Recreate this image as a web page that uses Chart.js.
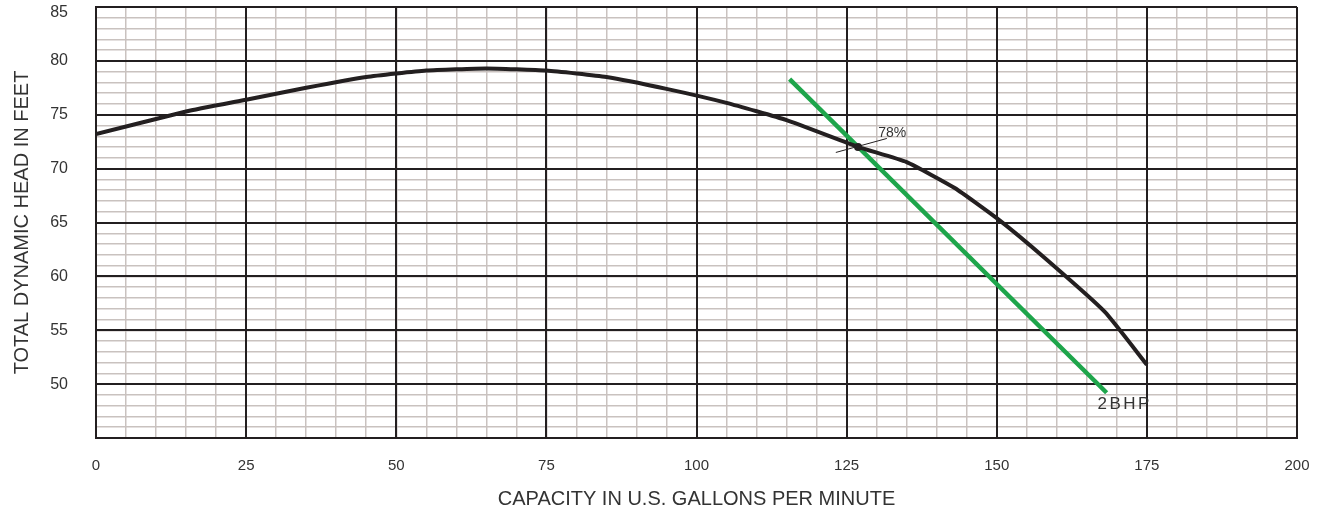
<!DOCTYPE html>
<html>
<head>
<meta charset="utf-8">
<script src="https://cdn.jsdelivr.net/npm/chart.js@4/dist/chart.umd.min.js"></script>
<style>
  html, body { margin: 0; padding: 0; background: #fff; }
  #wrap { width: 1317px; height: 512px; }
</style>
</head>
<body>
<div id="wrap"><canvas id="pump"></canvas></div>
<script>
// pump curve
var capacity = [0, 15, 25, 35, 45, 55, 65, 75, 85, 95, 105, 115, 127, 135, 143, 150, 158, 168, 175];
var head = [73.2, 75.3, 76.4, 77.5, 78.5, 79.1, 79.3, 79.1, 78.5, 77.4, 76.1, 74.5, 72.0, 70.6, 68.2, 65.4, 61.7, 56.7, 51.8];

// 2 BHP line
var bhpX = [115.5, 168.3];
var bhpY = [78.3, 49.2];

// best efficiency point and its little marker stroke
var bepX = [126.9];
var bepY = [72.0];
var effX = [123.2, 131.7];
var effY = [71.5, 72.8];

// text notes on the plot
var noteText = ["78%", "2BHP"];
var noteX = [132.6, 171.3];
var noteY = [73.3, 48.1];

var xTicks = [0, 25, 50, 75, 100, 125, 150, 175, 200];
var yTicks = [50, 55, 60, 65, 70, 75, 80, 85];

function pts(xs, ys) {
  return xs.map(function (x, i) { return { x: x, y: ys[i] }; });
}

Chart.defaults.font.family = "'Liberation Sans', Arial, sans-serif";
Chart.defaults.color = "#333";

var notes = {
  id: "notes",
  afterDatasetsDraw: function (chart) {
    var ctx = chart.ctx;
    var sx = chart.scales.x, sy = chart.scales.y;
    ctx.save();
    ctx.fillStyle = "#333";
    ctx.textAlign = "center";
    ctx.textBaseline = "middle";
    noteText.forEach(function (t, i) {
      ctx.font = (i === 0 ? "14px" : "17px") + " 'Liberation Sans', Arial, sans-serif";
      ctx.letterSpacing = i === 0 ? "0px" : "2.5px";
      ctx.fillText(t, sx.getPixelForValue(noteX[i]), sy.getPixelForValue(noteY[i]));
    });
    ctx.restore();
  }
};

var major = "#231f20";
var minor = "#c9c2bf";

function noPad(s) {
  s.paddingTop = 0; s.paddingBottom = 0; s.paddingLeft = 0; s.paddingRight = 0;
}

new Chart(document.getElementById("pump"), {
  type: "scatter",
  data: {
    datasets: [
      {
        data: pts(bhpX, bhpY),
        showLine: true,
        borderColor: "#1ea54b",
        borderWidth: 4.5,
        pointRadius: 0,
        order: 3
      },
      {
        data: pts(capacity, head),
        showLine: true,
        borderColor: major,
        borderWidth: 4,
        pointRadius: 0,
        tension: 0.15,
        order: 2
      },
      {
        data: pts(effX, effY),
        showLine: true,
        borderColor: major,
        borderWidth: 1,
        pointRadius: 0,
        order: 1
      },
      {
        data: pts(bepX, bepY),
        pointRadius: 4,
        pointBackgroundColor: major,
        pointBorderWidth: 0,
        order: 0
      }
    ]
  },
  options: {
    responsive: true,
    maintainAspectRatio: false,
    animation: false,
    layout: { padding: { top: 7, right: 20, left: 0, bottom: 0 } },
    plugins: {
      legend: { display: false },
      tooltip: { enabled: false }
    },
    scales: {
      xm: {
        type: "linear", position: "bottom", min: 0, max: 200, z: -1,
        ticks: { display: false, stepSize: 5 },
        grid: { color: minor, lineWidth: 1.5, drawTicks: false },
        border: { display: false },
        afterFit: function (s) { s.height = 0; noPad(s); }
      },
      ym: {
        type: "linear", position: "left", min: 45, max: 85, z: -1,
        ticks: { display: false, stepSize: 1 },
        grid: { color: minor, lineWidth: 1.5, drawTicks: false },
        border: { display: false },
        afterFit: function (s) { s.width = 0; noPad(s); }
      },
      x: {
        type: "linear", position: "bottom", min: 0, max: 200,
        afterBuildTicks: function (s) { s.ticks = xTicks.map(function (v) { return { value: v }; }); },
        ticks: { padding: 19, font: { size: 15 }, color: "#333", maxRotation: 0 },
        grid: { color: major, lineWidth: 2, drawTicks: false },
        border: { color: major, width: 2 },
        title: {
          display: true, text: "CAPACITY IN U.S. GALLONS PER MINUTE",
          font: { size: 20 }, color: "#333", padding: { top: 0, bottom: 1 }
        },
        afterFit: function (s) { s.height = 74; noPad(s); }
      },
      y: {
        type: "linear", position: "left", min: 45, max: 85,
        afterBuildTicks: function (s) {
          s.ticks = [{ value: 45 }].concat(yTicks.map(function (v) { return { value: v }; }));
        },
        ticks: {
          padding: 28, color: "#333",
          font: function (c) {
            return c.tick && c.tick.value === 85 ? { size: 16, lineHeight: 0.75 } : { size: 16 };
          },
          // top label sits a little below the frame line, as in the original
          callback: function (v) { return v === 45 ? "" : (v === 85 ? ["", "85"] : v); }
        },
        grid: { color: major, lineWidth: 2, drawTicks: false },
        border: { color: major, width: 2 },
        title: {
          display: true, text: "TOTAL DYNAMIC HEAD IN FEET",
          font: { size: 20 }, color: "#333", padding: { top: 10, bottom: 0 }
        },
        afterFit: function (s) { s.width = 96; noPad(s); }
      }
    }
  },
  plugins: [notes]
});
</script>
</body>
</html>
